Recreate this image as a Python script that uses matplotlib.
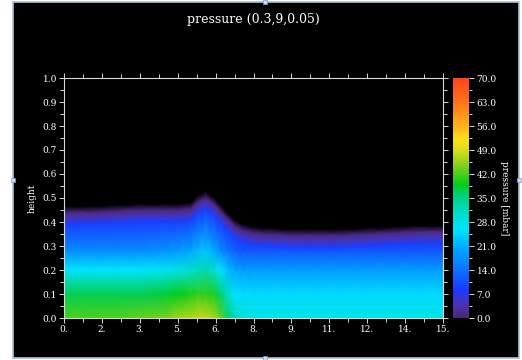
import numpy as np
import matplotlib
matplotlib.use('Agg')
import matplotlib.pyplot as plt
from matplotlib.colors import LinearSegmentedColormap, Normalize
from matplotlib.patches import Rectangle
from matplotlib.ticker import MultipleLocator, FixedLocator

# columns along x, free-surface height and pressure read at fixed heights
x_cols = [0, 1, 2, 3, 4, 4.5, 5, 5.3, 5.6, 5.9, 6.2, 6.5, 6.8, 7.1, 7.5, 8, 9, 10, 11, 12, 13, 14, 15]
surface_h = [.44, .44, .445, .45, .45, .45, .455, .485, .50, .48, .445, .41, .38, .365, .355, .35,
             .345, .345, .345, .35, .355, .36, .36]
p_z00 = [42, 42, 42, 43, 44, 46, 47, 48, 48, 47, 43, 36, 31, 29, 28, 28, 28, 28, 28, 28, 28, 28, 28]
p_z10 = [37, 37, 37, 37, 38, 39, 40, 41, 41, 40, 36, 30, 26, 25, 25, 25, 25, 25, 25, 25, 25, 25, 25]
p_z20 = [26, 26, 26, 26, 27, 28, 29, 31, 32, 30, 26, 22, 20, 19, 19, 19, 19, 19, 19, 19, 19, 19, 19]
p_z28 = [17, 17, 17, 17, 18, 19, 20, 22, 23, 21, 17, 14, 12, 11, 11, 11, 11, 11, 11, 11, 11, 11, 11]
p_blue = 9.0     # just under the indigo layer
p_indigo = 4.0   # layer under the surface
p_top = 1.0      # at the surface

xtick_pos = [0, 1.5, 3, 4.5, 6, 7.5, 9, 10.5, 12, 13.5, 15]
xtick_lab = ['0.', '2.', '3.', '5.', '6.', '8.', '9.', '11.', '12.', '14.', '15.']
cb_ticks = [0, 7, 14, 21, 28, 35, 42, 49, 56, 63, 70]

colors = [(0.0, (0.30, 0.15, 0.45)), (4/70, (0.28, 0.20, 0.72)), (8/70, (0.10, 0.22, 1.0)),
          (14/70, (0.05, 0.45, 1.0)), (20/70, (0.0, 0.65, 1.0)), (26/70, (0.0, 0.90, 1.0)),
          (30/70, (0.0, 0.87, 0.80)), (35/70, (0.0, 0.82, 0.55)), (39/70, (0.02, 0.80, 0.10)),
          (45/70, (0.55, 0.82, 0.10)), (49/70, (0.85, 0.86, 0.10)), (52/70, (0.98, 0.88, 0.10)),
          (56/70, (1.0, 0.70, 0.10)), (63/70, (1.0, 0.45, 0.10)), (1.0, (1.0, 0.27, 0.10))]
cmap = LinearSegmentedColormap.from_list('press', colors)
cmap.set_under('black')

fig = plt.figure(figsize=(5.22, 3.6), dpi=100, facecolor='white')
fig.patches.append(Rectangle((13/522, 2/360), 506/522, 356/360, transform=fig.transFigure,
                             facecolor='black', edgecolor='#a9c1de', lw=1.2, zorder=-10))
for hx, hy in [(13, 180), (265, 2), (265, 358), (519, 180)]:
    fig.patches.append(Rectangle(((hx - 2)/522, (360 - hy - 2)/360), 4/522, 4/360,
                                 transform=fig.transFigure, facecolor='#cfdcf0',
                                 edgecolor='#7f9cc8', lw=0.5, zorder=-9))

ax = fig.add_axes([64/522, 42/360, 379/522, 240/360])
ax.set_facecolor('black')

X = np.array(x_cols)
H = np.array(surface_h)
zeros = np.zeros_like(H)
Z = np.vstack([zeros, zeros + 0.1, zeros + 0.2, zeros + 0.28,
               H - 0.05, H - 0.022, H, H + 0.025])
XX = np.tile(X, (Z.shape[0], 1))
P = np.vstack([p_z00, p_z10, p_z20, p_z28, np.full_like(H, p_blue), np.full_like(H, p_indigo),
               np.full_like(H, p_top), np.full_like(H, -5.0)])
mesh = ax.pcolormesh(XX, Z, P, shading='gouraud', cmap=cmap, norm=Normalize(0, 70))

ax.set_xlim(0, 15)
ax.set_ylim(0, 1)
grey = '#d8d8d8'
for s in ax.spines.values():
    s.set_color(grey)
    s.set_linewidth(0.8)
ax.xaxis.set_major_locator(FixedLocator(xtick_pos))
ax.set_xticklabels(xtick_lab)
ax.xaxis.set_minor_locator(MultipleLocator(0.75))
ax.yaxis.set_major_locator(MultipleLocator(0.1))
ax.yaxis.set_minor_locator(MultipleLocator(0.05))
ax.yaxis.set_major_formatter(plt.FormatStrFormatter('%.1f'))
ax.tick_params(which='both', direction='out', color=grey, top=True, right=True,
               labelcolor='white', labelsize=6.5, width=0.7)
ax.tick_params(which='major', length=3.5, pad=1.5)
ax.tick_params(which='minor', length=3)
for lab in ax.get_xticklabels() + ax.get_yticklabels():
    lab.set_family('DejaVu Serif')
ax.set_ylabel('height', color='white', fontsize=6.5, family='DejaVu Serif', labelpad=4)

cax = fig.add_axes([453/522, 42/360, 16/522, 240/360])
cb = fig.colorbar(mesh, cax=cax)
cb.outline.set_visible(False)
cb.set_ticks(cb_ticks)
cb.ax.yaxis.set_major_formatter(plt.FormatStrFormatter('%.1f'))
cb.ax.yaxis.set_minor_locator(MultipleLocator(3.5))
cb.ax.tick_params(which='both', direction='out', color=grey, labelcolor='white',
                  labelsize=6.5, width=0.7)
cb.ax.tick_params(which='major', length=3.5, pad=2)
cb.ax.tick_params(which='minor', length=2.5)
for lab in cb.ax.get_yticklabels():
    lab.set_family('DejaVu Serif')
cb.set_label('pressure [mbar]', color='white', fontsize=6.5, family='DejaVu Serif',
             rotation=270, labelpad=9)

fig.text(253/522, 1 - 19/360, 'pressure (0.3,9,0.05)', color='white', fontsize=9,
         family='DejaVu Serif', ha='center', va='center')

fig.savefig('out.png', dpi=100, facecolor=fig.get_facecolor())
